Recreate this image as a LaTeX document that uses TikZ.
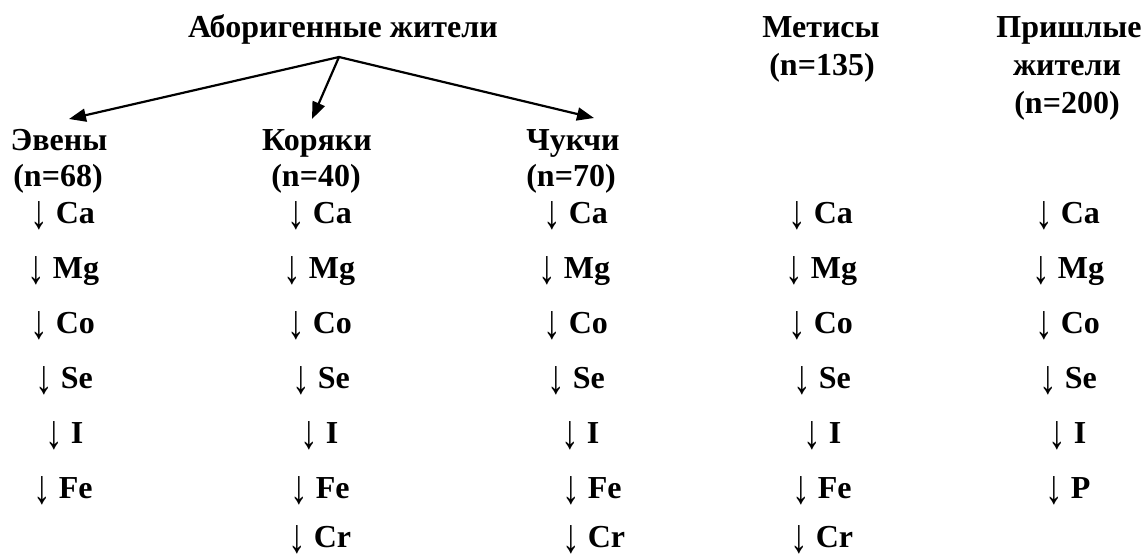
\documentclass[tikz,border=0pt]{standalone}
\usepackage{fontspec}
\setmainfont{Liberation Serif}
\usetikzlibrary{arrows.meta}
% tall downward arrow in regular weight (no vertical extent of its own), then a space
\newcommand\dnarr{{\mdseries\raisebox{-0.16em}[0pt][0pt]{\scalebox{1.1}[1.5]{↓}}}\ }
\begin{document}
\begin{tikzpicture}[x=1pt,y=-1pt,
  lbl/.style={font=\fontsize{32}{36}\selectfont\bfseries, inner sep=0pt, anchor=base},
  item/.style={font=\fontsize{32}{36}\selectfont\bfseries, inner sep=0pt, anchor=base west},
  link/.style={line width=2.2pt, -{Triangle[length=17pt,width=13pt]}}]
\useasboundingbox (0,0) rectangle (1144,558);

% group headings
\node[lbl] (abor) at (343,37) {Аборигенные жители};
\node[lbl] (even)  at (59,150)  {Эвены};
\node[lbl] (evenn) at (58,186)  {(n=68)};
\node[lbl] (kor)   at (317,150) {Коряки};
\node[lbl] (korn)  at (316,186) {(n=40)};
\node[lbl] (chuk)  at (573,150) {Чукчи};
\node[lbl] (chukn) at (571,186) {(n=70)};
\node[lbl] (met)   at (821,37)  {Метисы};
\node[lbl] (metn)  at (822,75)  {(n=135)};
\node[lbl] (pri)   at (1069,37) {Пришлые};
\node[lbl] (prij)  at (1067,75) {жители};
\node[lbl] (prin)  at (1067,113) {(n=200)};

% branching arrows
\coordinate (hub) at (339,57);
\coordinate (teven) at (69,119);
\coordinate (tkor)  at (312,119);
\coordinate (tchuk) at (594,118);
\draw[link] (hub) -- (teven);
\draw[link] (hub) -- (tkor);
\draw[link] (hub) -- (tchuk);

% column 1
\node[item] (a1) at (30,223) {\dnarr Ca};
\node[item] (a2) at (27,278) {\dnarr Mg};
\node[item] (a3) at (30,333) {\dnarr Co};
\node[item] (a4) at (35,388) {\dnarr Se};
\node[item] (a5) at (45,443) {\dnarr I};
\node[item] (a6) at (33,498) {\dnarr Fe};
% column 2
\node[item] (b1) at (287,223) {\dnarr Ca};
\node[item] (b2) at (283,278) {\dnarr Mg};
\node[item] (b3) at (287,333) {\dnarr Co};
\node[item] (b4) at (292,388) {\dnarr Se};
\node[item] (b5) at (300,443) {\dnarr I};
\node[item] (b6) at (290,498) {\dnarr Fe};
\node[item] (b7) at (288,547) {\dnarr Cr};
% column 3
\node[item] (c1) at (543,223) {\dnarr Ca};
\node[item] (c2) at (538,278) {\dnarr Mg};
\node[item] (c3) at (543,333) {\dnarr Co};
\node[item] (c4) at (547,388) {\dnarr Se};
\node[item] (c5) at (561,443) {\dnarr I};
\node[item] (c6) at (562,498) {\dnarr Fe};
\node[item] (c7) at (562,547) {\dnarr Cr};
% column 4
\node[item] (d1) at (788,223) {\dnarr Ca};
\node[item] (d2) at (785,278) {\dnarr Mg};
\node[item] (d3) at (788,333) {\dnarr Co};
\node[item] (d4) at (793,388) {\dnarr Se};
\node[item] (d5) at (803,443) {\dnarr I};
\node[item] (d6) at (792,498) {\dnarr Fe};
\node[item] (d7) at (790,547) {\dnarr Cr};
% column 5
\node[item] (e1) at (1035,223) {\dnarr Ca};
\node[item] (e2) at (1032,278) {\dnarr Mg};
\node[item] (e3) at (1035,333) {\dnarr Co};
\node[item] (e4) at (1039,388) {\dnarr Se};
\node[item] (e5) at (1048,443) {\dnarr I};
\node[item] (e6) at (1045,498) {\dnarr P};
\end{tikzpicture}
\end{document}
